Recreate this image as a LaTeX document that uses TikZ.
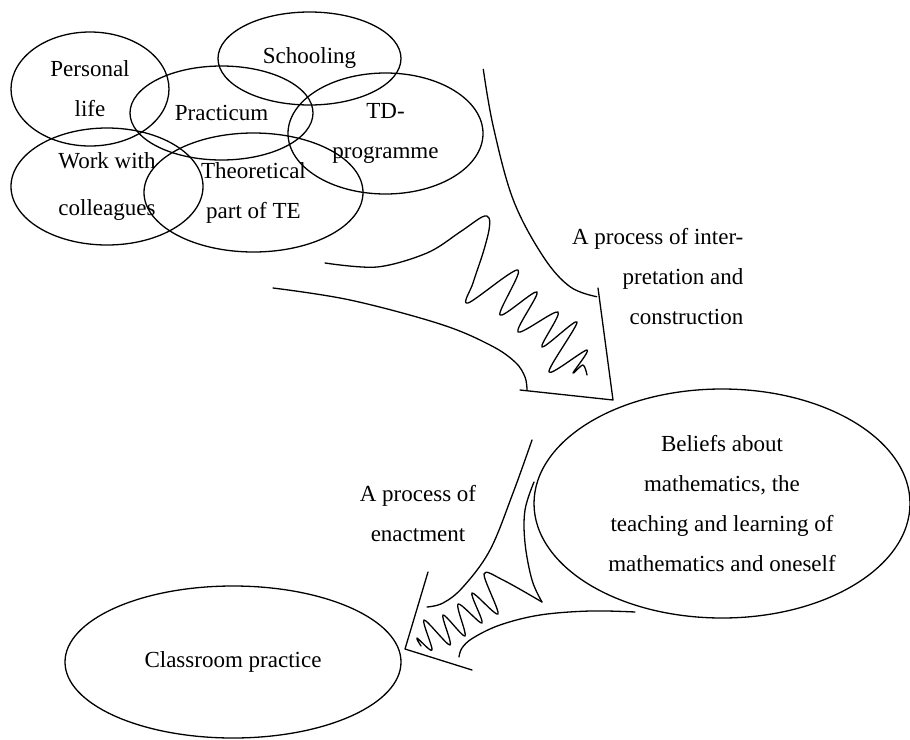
\documentclass[tikz,border=0pt]{standalone}
\usepackage{fontspec}
\setmainfont{Liberation Serif}
\usetikzlibrary{shapes.geometric}
\begin{document}
\begin{tikzpicture}[x=1pt,y=-1pt, line width=1.3pt,
  bub/.style={ellipse, draw, inner sep=0pt, align=center, font=\fontsize{23}{40}\selectfont},
  lbl/.style={inner sep=0pt, font=\fontsize{23}{40}\selectfont},
  curve/.style={line cap=round, line join=round}]
\useasboundingbox (0,0) rectangle (910,739);
% source ellipses
\node[bub, minimum width=158pt, minimum height=114pt] (personal) at (90,89) {Personal\\life};
\node[bub, minimum width=183pt, minimum height=94pt] (practicum) at (221.5,113) {Practicum};
\node[bub, minimum width=183pt, minimum height=93pt] (schooling) at (309.5,58.5) {Schooling};
\node[bub, minimum width=195pt, minimum height=121pt] (td) at (385.5,133.5) {TD-\\programme};
\node[bub, minimum width=192pt, minimum height=117pt, font=\fontsize{23}{47}\selectfont] (work) at (107,186.5) {Work with\\colleagues};
\node[bub, minimum width=219pt, minimum height=119pt] (theory) at (253.5,192.5) {Theoretical\\part of TE};
% beliefs and practice
\node[bub, minimum width=376pt, minimum height=229pt] (beliefs) at (722,503.5) {Beliefs about\\mathematics, the\\teaching and learning of\\mathematics and oneself};
\node[bub, minimum width=336pt, minimum height=152pt] (classroom) at (233,662) {Classroom practice};
% labels
\node[lbl, align=right, anchor=north east] (interp) at (744,227.3) {A process of inter-\\pretation and\\construction};
\node[lbl, align=center, anchor=north] (enact) at (418,484.3) {A process of\\enactment};
% upper funnel
\draw[curve] plot[smooth, tension=0.6] coordinates {(483.3,69.3) (493.3,126.7) (513.3,200) (543.3,256.7) (570,286.7) (596.7,296.7)};
\draw[curve] (598,288) -- (613,400) -- (520,390);
\draw[curve] plot[smooth, tension=0.6] coordinates {(273,288) (350,300) (440,324) (490,345) (515,362) (525,377) (527,390)};
\draw[curve] plot[smooth, tension=0.55] coordinates {(325,263) (377,267) (427,253) (460,232) (482,217) (489,218) (489,230) (483,253) (473,283) (468,303) (518,270) (500,315) (537,292) (518,332) (558,312) (542,347) (577,322) (549,372) (587,350) (573,373) (583,365) (587,375)};
% lower funnel
\draw[curve] plot[smooth, tension=0.6] coordinates {(532,440) (513,493) (490,550) (463,587) (443,603) (427,607)};
\draw[curve] (428,572) -- (405,649) -- (472,670);
\draw[curve] plot[smooth, tension=0.6] coordinates {(534,482) (525,510) (525,543) (532,580) (542,602)};
\draw[curve] plot[smooth, tension=0.55] coordinates {(542,602) (503,580) (484,574) (498,614) (472,593) (482,623) (458,604) (465,636) (443,615) (450,645) (424,620) (432,650) (417,638) (421,646)};
\draw[curve] plot[smooth, tension=0.6] coordinates {(635,612) (590,611) (540,615) (500,625) (473,638) (462,648) (459,657)};
\end{tikzpicture}
\end{document}
